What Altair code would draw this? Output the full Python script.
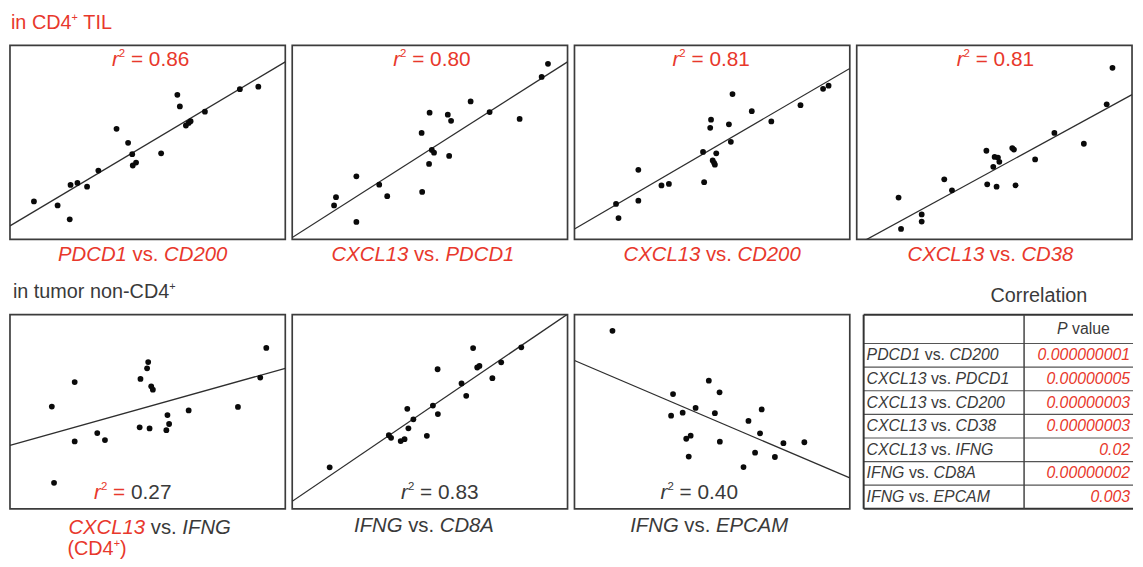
import altair as alt
import pandas as pd

RED = "#e8382c"
INK = "#3a3a3a"
FRAME = "#3c3c3c"
FONT = "Liberation Sans"
W, H = 278, 196

# ---------------- data (arbitrary 0-10 units) ----------------
pdcd1_cd200_x = [0.87, 1.73, 2.17, 2.20, 2.45, 2.80, 3.21, 3.87, 4.29, 4.44, 4.46, 4.58, 5.49, 6.08, 6.17, 6.39, 6.49, 6.56, 7.08, 8.35, 9.02]
pdcd1_cd200_y = [1.96, 1.75, 1.04, 2.81, 2.91, 2.72, 3.55, 5.70, 4.98, 4.39, 3.81, 3.96, 4.44, 7.45, 6.85, 5.87, 6.00, 6.09, 6.58, 7.74, 7.87]
pdcd1_cd200_fit = [0.70, 9.15]

cxcl13_pdcd1_x = [1.52, 1.59, 2.33, 2.33, 3.16, 3.45, 4.70, 4.72, 4.97, 4.99, 5.07, 5.15, 5.65, 5.70, 5.77, 6.48, 7.17, 8.26, 9.06, 9.29]
cxcl13_pdcd1_y = [1.75, 2.18, 3.25, 0.90, 2.82, 2.23, 5.49, 2.45, 3.89, 6.53, 4.61, 4.47, 6.43, 4.30, 6.11, 7.11, 6.56, 6.21, 8.37, 9.05]
cxcl13_pdcd1_fit = [0.10, 9.15]

cxcl13_cd200_x = [1.51, 1.60, 2.32, 2.32, 3.16, 3.43, 4.67, 4.71, 4.93, 4.96, 5.02, 5.07, 5.10, 5.15, 5.61, 5.68, 5.74, 6.44, 7.15, 8.21, 9.03, 9.23]
cxcl13_cd200_y = [1.83, 1.10, 3.59, 2.00, 2.78, 2.86, 4.51, 2.95, 5.75, 6.17, 4.07, 3.95, 3.85, 4.44, 5.93, 5.03, 7.49, 6.61, 6.08, 6.92, 7.76, 7.92]
cxcl13_cd200_fit = [0.54, 8.81]

cxcl13_cd38_x = [1.52, 1.61, 2.36, 2.36, 3.18, 3.46, 4.71, 4.74, 4.96, 5.01, 5.08, 5.13, 5.18, 5.65, 5.71, 5.77, 6.48, 7.18, 8.25, 9.08, 9.29]
cxcl13_cd38_y = [2.16, 0.54, 1.29, 0.92, 3.10, 2.53, 4.57, 2.84, 3.74, 4.25, 2.72, 4.22, 4.00, 4.71, 4.63, 2.79, 4.12, 5.49, 4.93, 6.96, 8.84]
cxcl13_cd38_fit = [-0.28, 7.46]

cxcl13_ifng_x = [1.52, 1.60, 2.35, 2.35, 3.17, 3.45, 4.71, 4.74, 4.98, 5.02, 5.07, 5.13, 5.19, 5.68, 5.72, 5.78, 6.49, 8.28, 9.09, 9.31]
cxcl13_ifng_y = [5.27, 1.34, 6.53, 3.47, 3.90, 3.54, 4.20, 6.69, 7.24, 7.56, 4.14, 6.31, 6.14, 4.05, 4.83, 4.37, 5.07, 5.25, 6.76, 8.29]
cxcl13_ifng_fit = [3.27, 7.24]

ifng_cd8a_x = [1.36, 3.51, 3.59, 3.94, 4.08, 4.18, 4.22, 4.40, 4.89, 5.11, 5.28, 5.29, 6.15, 6.32, 6.57, 6.72, 6.80, 7.27, 7.59, 8.32]
ifng_cd8a_y = [2.14, 3.79, 3.66, 3.49, 3.59, 5.15, 4.15, 4.61, 3.76, 5.32, 7.19, 4.88, 6.46, 5.82, 8.28, 7.28, 7.36, 6.73, 7.55, 8.32]
ifng_cd8a_fit = [0.39, 10.03]

ifng_epcam_x = [1.38, 3.51, 3.58, 3.93, 4.06, 4.15, 4.22, 4.40, 4.88, 5.10, 5.27, 5.28, 6.14, 6.32, 6.56, 6.74, 6.80, 7.28, 7.59, 8.35]
ifng_epcam_y = [9.17, 4.80, 5.91, 4.95, 3.61, 2.69, 3.77, 5.20, 6.60, 4.93, 6.00, 3.46, 2.15, 4.53, 2.89, 3.89, 5.12, 2.67, 3.38, 3.43]
ifng_epcam_fit = [7.64, 1.59]

fit_x = [0, 10]
r2_values = ["0.86", "0.80", "0.81", "0.81", "0.27", "0.83", "0.40"]

pair_a = ["PDCD1", "CXCL13", "CXCL13", "CXCL13", "CXCL13", "IFNG", "IFNG"]
pair_b = ["CD200", "PDCD1", "CD200", "CD38", "IFNG", "CD8A", "EPCAM"]
p_values = ["0.000000001", "0.00000005", "0.00000003", "0.00000003", "0.02", "0.00000002", "0.003"]

# ---------------- text helpers ----------------
CW = {' ': 278, '(': 333, ')': 333, '+': 584, '.': 278, '=': 584, '-': 333,
      'A': 667, 'C': 722, 'D': 722, 'E': 667, 'F': 611, 'G': 778, 'I': 278, 'L': 556,
      'M': 833, 'N': 722, 'P': 667, 'T': 611, 'X': 667,
      'a': 556, 'c': 500, 'e': 556, 'i': 222, 'l': 222, 'm': 833, 'n': 556, 'o': 556,
      'r': 333, 's': 500, 't': 278, 'u': 556, 'v': 500}


def tw(t, s):
    return sum(CW.get(c, 556) for c in t) / 1000.0 * s


def seg_text(segs, x, size, y=None, align="center", baseline="alphabetic", data=None, yenc=None):
    """segs: list of (text, italic, color, superscript)"""
    sizes = [size * 0.55 if sup else size for (_, _, _, sup) in segs]
    widths = [tw(t, s) for (t, _, _, _), s in zip(segs, sizes)]
    cur = x - sum(widths) / 2 if align == "center" else x
    out = []
    for (t, it, col, sup), s, wd in zip(segs, sizes, widths):
        lead = len(t) - len(t.lstrip(" "))
        core = t.strip(" ")
        px = cur + tw(" " * lead, s)
        cur += wd
        if not core:
            continue
        mk = dict(text=core, font=FONT, fontSize=s, color=col, align="left", baseline=baseline)
        if it:
            mk["fontStyle"] = "italic"
        src = data if data is not None else pd.DataFrame({"k": [0]})
        if yenc is not None:
            enc = dict(x=alt.value(px), y=yenc)
        else:
            enc = dict(x=alt.value(px), y=alt.value(y - size * 0.42 if sup else y))
        out.append(alt.Chart(src).mark_text(**mk).encode(**enc))
    return out


def scatter(xs, ys, fit, extra):
    sx = alt.Scale(domain=[0, 10], nice=False, zero=False)
    sy = alt.Scale(domain=[0, 10], nice=False, zero=False)
    line = alt.Chart(pd.DataFrame({"x": fit_x, "y": fit})).mark_line(
        color="#2e2e2e", strokeWidth=1.3, clip=True).encode(
        x=alt.X("x:Q", scale=sx, axis=None), y=alt.Y("y:Q", scale=sy, axis=None))
    dots = alt.Chart(pd.DataFrame({"x": xs, "y": ys})).mark_circle(
        size=34, color="#0a0a0a", opacity=1).encode(
        x=alt.X("x:Q", scale=sx, axis=None), y=alt.Y("y:Q", scale=sy, axis=None))
    return alt.layer(line, dots, *extra).properties(width=W, height=H)


def r2(val, cx, y, c1, c2):
    return seg_text([("r", True, c1, False), ("2", False, c1, True), (" =", False, c1, False),
                     (" " + val, False, c2, False)], cx, 21, y)


def pair(a, b, cx, y, ca, cv, cb):
    return seg_text([(a, True, ca, False), (" vs. ", False, cv, False), (b, True, cb, False)], cx, 20.5, y)


TOPY = 21
LBL1 = H + 22
panels = []
panels.append(scatter(pdcd1_cd200_x, pdcd1_cd200_y, pdcd1_cd200_fit,
                      r2(r2_values[0], 142, TOPY, RED, RED) + pair("PDCD1", "CD200", 134, LBL1, RED, RED, RED)
                      + seg_text([("in CD4", False, RED, False), ("+", False, RED, True), (" TIL", False, RED, False)],
                                 1, 20, -16, align="left")))
panels.append(scatter(cxcl13_pdcd1_x, cxcl13_pdcd1_y, cxcl13_pdcd1_fit,
                      r2(r2_values[1], 141, TOPY, RED, RED) + pair("CXCL13", "PDCD1", 132, LBL1, RED, RED, RED)))
panels.append(scatter(cxcl13_cd200_x, cxcl13_cd200_y, cxcl13_cd200_fit,
                      r2(r2_values[2], 138, TOPY, RED, RED) + pair("CXCL13", "CD200", 139, LBL1, RED, RED, RED)))
panels.append(scatter(cxcl13_cd38_x, cxcl13_cd38_y, cxcl13_cd38_fit,
                      r2(r2_values[3], 140, TOPY, RED, RED) + pair("CXCL13", "CD38", 135, LBL1, RED, RED, RED)))

BOTY = H - 10
LBL2 = H + 23
panels.append(scatter(cxcl13_ifng_x, cxcl13_ifng_y, cxcl13_ifng_fit,
                      r2(r2_values[4], 124, BOTY, RED, INK) + pair("CXCL13", "IFNG", 141, LBL2 + 2, RED, INK, INK)
                      + seg_text([("(CD4", False, RED, False), ("+", False, RED, True), (")", False, RED, False)],
                                 58, 20, LBL2 + 24, align="left")
                      + seg_text([("in tumor non-CD4", False, INK, False), ("+", False, INK, True)],
                                 3, 20, -17, align="left")))
panels.append(scatter(ifng_cd8a_x, ifng_cd8a_y, ifng_cd8a_fit,
                      r2(r2_values[5], 149, BOTY, INK, INK) + pair("IFNG", "CD8A", 133, LBL2, INK, INK, INK)))
panels.append(scatter(ifng_epcam_x, ifng_epcam_y, ifng_epcam_fit,
                      r2(r2_values[6], 126, BOTY, INK, INK) + pair("IFNG", "EPCAM", 136, LBL2, INK, INK, INK)))

# ---------------- correlation table ----------------
HEAD = 1.22
TSC = alt.Scale(domain=[-0.5 - HEAD, len(pair_a) - 0.5], nice=False, zero=False, reverse=True)
tbl = pd.DataFrame({"row": list(range(len(pair_a))), "a": pair_a, "b": pair_b, "p": p_values})
seps = pd.DataFrame({"row": [i - 0.5 for i in range(len(pair_a))]})
borders = pd.DataFrame({"row": [-0.5 - HEAD, len(pair_a) - 0.5]})
TL, TD = 7, 169
TF = 16

t_layers = [
    alt.Chart(seps).mark_rule(color="#555555", strokeWidth=1.2).encode(
        y=alt.Y("row:Q", scale=TSC, axis=None), x=alt.value(TL), x2=alt.value(W + 1)),
    alt.Chart(borders).mark_rule(color="#333333", strokeWidth=2).encode(
        y=alt.Y("row:Q", scale=TSC, axis=None), x=alt.value(TL), x2=alt.value(W + 1)),
    alt.Chart(pd.DataFrame({"k": [0]})).mark_rule(color="#333333", strokeWidth=2).encode(
        x=alt.value(TL), y=alt.value(0), y2=alt.value(H)),
    alt.Chart(pd.DataFrame({"k": [0]})).mark_rule(color="#444444", strokeWidth=1.5).encode(
        x=alt.value(TD), y=alt.value(0), y2=alt.value(H)),
    alt.Chart(tbl).mark_text(font=FONT, fontSize=TF, fontStyle="italic", color=RED,
                             align="right", baseline="middle").encode(
        text="p:N", x=alt.value(276), y=alt.Y("row:Q", scale=TSC, axis=None)),
    alt.Chart(pd.DataFrame({"k": [0]})).mark_text(text="Correlation", font=FONT, fontSize=20, color=INK,
                                                  align="center", baseline="alphabetic").encode(
        x=alt.value(184), y=alt.value(-13)),
]
t_layers += seg_text([("P", True, INK, False), (" value", False, INK, False)], 229, TF,
                     baseline="middle", data=pd.DataFrame({"row": [-0.5 - HEAD / 2]}),
                     yenc=alt.Y("row:Q", scale=TSC, axis=None))
for i, (a, b) in enumerate(zip(pair_a, pair_b)):
    t_layers += seg_text([(a, True, INK, False), (" vs. ", False, INK, False), (b, True, INK, False)],
                         10, TF, align="left", baseline="middle",
                         data=pd.DataFrame({"row": [i]}), yenc=alt.Y("row:Q", scale=TSC, axis=None))

table = alt.layer(*t_layers).properties(width=W, height=H, view=alt.ViewBackground(stroke="transparent"))
panels.append(table)

chart = alt.concat(*panels, columns=4, spacing={"row": 76, "column": 7}, bounds="flush").properties(
    padding={"left": 1, "top": 0, "right": 0, "bottom": 0}, background="white"
).configure_view(stroke=FRAME, strokeWidth=1.7)

chart.save("out.html", embed_options={"renderer": "svg", "actions": False})
